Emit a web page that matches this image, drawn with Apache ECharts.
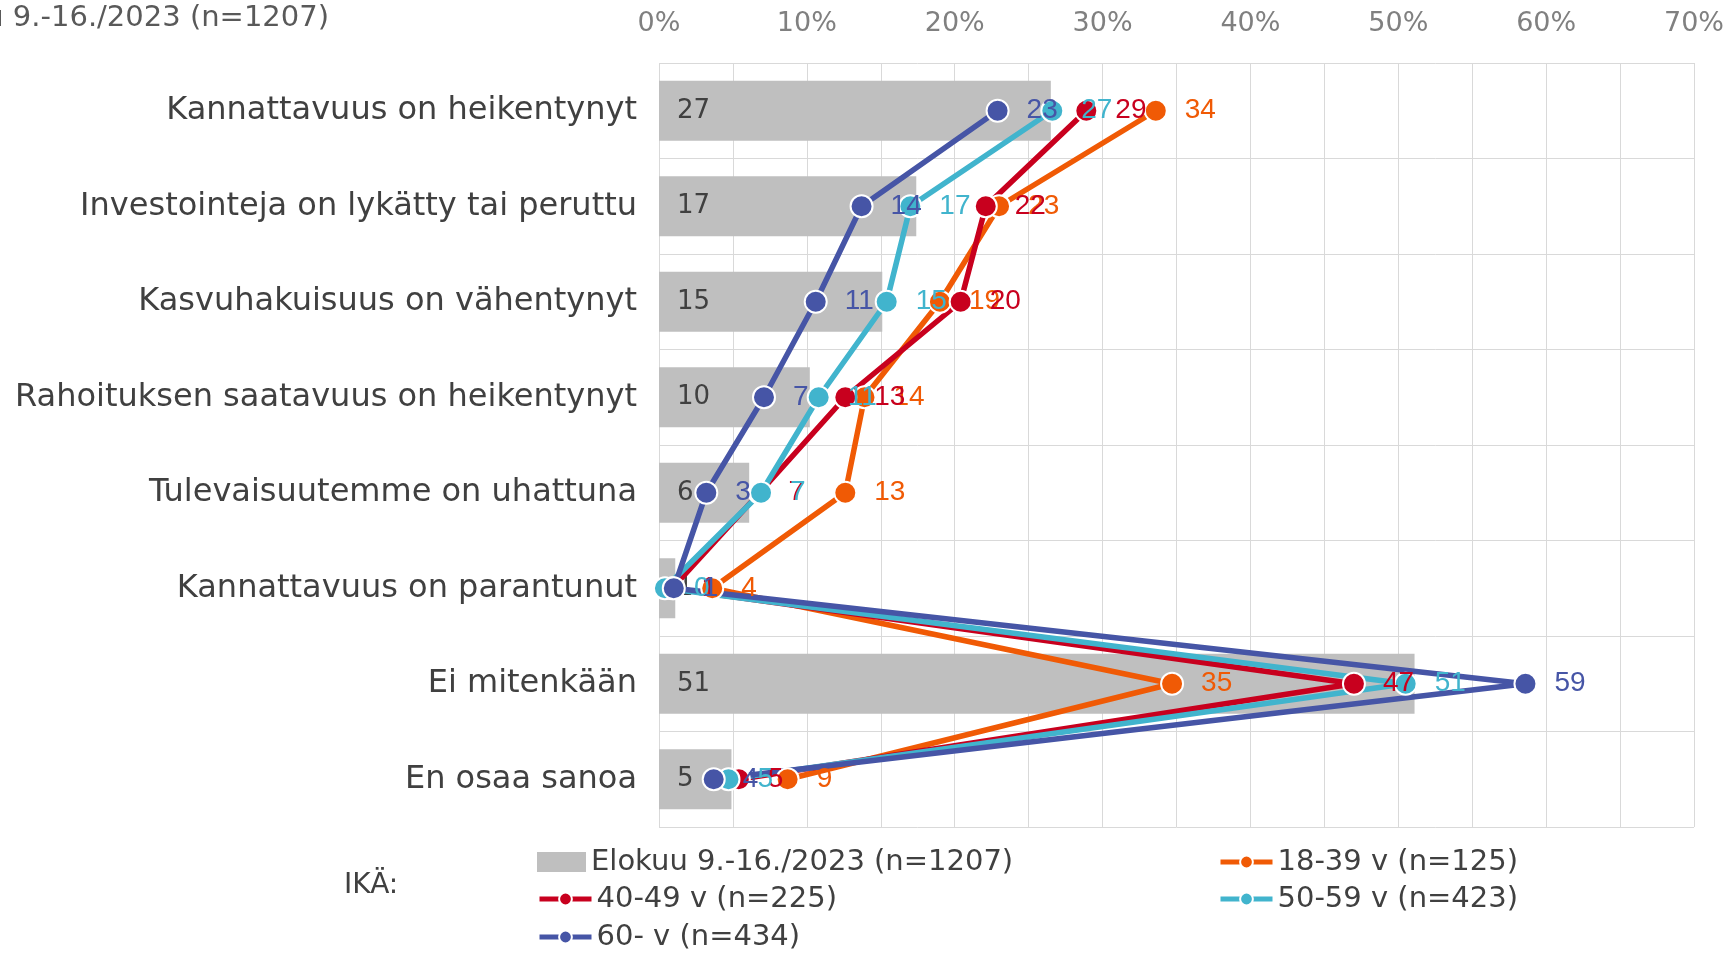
<!DOCTYPE html>
<html><head><meta charset="utf-8">
<script src="https://cdn.jsdelivr.net/npm/echarts@6/dist/echarts.min.js"></script>
<style>html,body{margin:0;padding:0;background:#fff}#c{width:1729px;height:954px}</style>
</head><body><div id="c"></div>
<script>
const categories = ["Kannattavuus on heikentynyt","Investointeja on lykätty tai peruttu","Kasvuhakuisuus on vähentynyt","Rahoituksen saatavuus on heikentynyt","Tulevaisuutemme on uhattuna","Kannattavuus on parantunut","Ei mitenkään","En osaa sanoa"];
const xTicks = [0,10,20,30,40,50,60,70];
const totalName = "Elokuu 9.-16./2023 (n=1207)";
const total = [26.5,17.4,15.1,10.2,6.1,1.1,51.1,4.9];
const age1839 = [33.6,23.0,19.0,13.9,12.6,3.6,34.7,8.7];
const age4049 = [28.9,22.1,20.4,12.6,6.8,0.9,47.0,5.4];
const age5059 = [26.6,17.0,15.4,10.8,6.9,0.4,50.5,4.7];
const age60 = [22.9,13.7,10.6,7.1,3.2,1.0,58.6,3.7];
const lineSeries = [
  {name:"18-39 v (n=125)", data:age1839, color:"#F05A05"},
  {name:"40-49 v (n=225)", data:age4049, color:"#C8001E"},
  {name:"50-59 v (n=423)", data:age5059, color:"#41B4CD"},
  {name:"60- v (n=434)", data:age60, color:"#4655A6"}
];
const chart = echarts.init(document.getElementById('c'));
const legendText = {fontFamily:'DejaVu Sans', fontSize:29, color:'#404040', lineHeight:32};
function lineLegend(name, left, cy){
  return {data:[name], left:left, top:cy-16, padding:0, itemWidth:52, itemHeight:16, itemGap:0, textStyle:legendText, selectedMode:false, lineStyle:{width:5}};
}
const option = {
  animation:false,
  grid:{left:659, right:35, top:63, bottom:127, containLabel:false},
  xAxis:{type:'value', position:'top', min:0, max:70, interval:5,
    axisLine:{show:false}, axisTick:{show:false},
    axisLabel:{formatter:v=> xTicks.indexOf(v)>=0 ? v+'%' : '', fontFamily:'DejaVu Sans', fontSize:27, color:'#808080', margin:26},
    splitLine:{show:true, lineStyle:{color:'#D9D9D9', width:1}}},
  yAxis:{type:'category', data:categories, inverse:true,
    axisLine:{show:false}, axisTick:{show:false},
    axisLabel:{fontFamily:'DejaVu Sans', fontSize:32, color:'#404040', margin:22},
    splitLine:{show:true, lineStyle:{color:'#D9D9D9', width:1}}},
  legend:[
    {data:[totalName], left:537, top:846, padding:0, itemWidth:49, itemHeight:20, textStyle:legendText, selectedMode:false, icon:'rect'},
    lineLegend(lineSeries[0].name, 1218, 862),
    lineLegend(lineSeries[1].name, 537, 899),
    lineLegend(lineSeries[2].name, 1218, 899),
    lineLegend(lineSeries[3].name, 537, 937)
  ],
  graphic:[
    {type:'text', right:1729-329, top:4, style:{text:totalName, fontFamily:'DejaVu Sans', fontSize:29, fill:'#595959', textAlign:'right'}},
    {type:'text', left:344, top:872, style:{text:'IKÄ:', fontFamily:'DejaVu Sans', fontSize:28, fill:'#404040'}}
  ],
  series:[
    {name:totalName, type:'bar', data:total, barWidth:60, itemStyle:{color:'#BFBFBF'}, z:1,
     label:{show:true, position:'insideLeft', distance:18, formatter:p=>Math.round(p.value), fontFamily:'DejaVu Sans', fontSize:26, color:'#404040'}}
  ].concat(lineSeries.map((s,i)=>({
    name:s.name, type:'line', data:s.data, symbol:'circle', symbolSize:22, z:3,
    lineStyle:{color:s.color, width:5.5}, itemStyle:{color:s.color, borderColor:'#fff', borderWidth:2},
    label:{show:true, position:'right', distance:17, formatter:p=>Math.round(p.value), fontFamily:'Liberation Sans', fontSize:28, color:s.color}
  })))
};
chart.setOption(option);
</script></body></html>
